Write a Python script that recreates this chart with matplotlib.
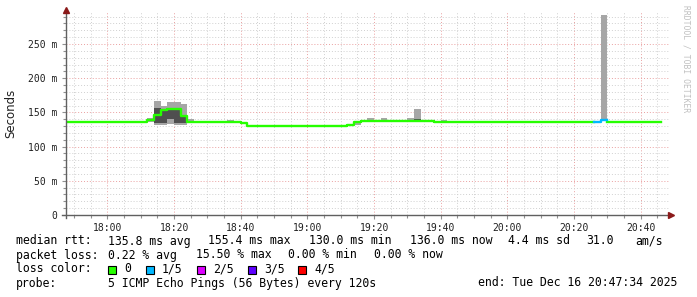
import numpy as np
import matplotlib
matplotlib.use("Agg")
import matplotlib.pyplot as plt
from matplotlib.patches import Rectangle

# median rtt (ms), value holds from the given time until the next entry
med_t = ["17:46", "18:12", "18:14", "18:16", "18:18", "18:22", "18:24", "18:40", "18:42",
         "19:12", "19:14", "19:16", "19:38", "20:26", "20:28", "20:30"]
med_ms = [136.0, 138.5, 146.2, 153.5, 155.4, 144.7, 136.0, 134.5, 130.0,
          131.5, 136.5, 137.5, 136.0, 136.7, 139.0, 136.0]
data_end = "20:46"

# lost pings out of 5
loss_t = ["17:46", "20:26", "20:30"]
loss_n = [0, 1, 0]

# smoke (light grey) per 2 min step
smoke_t = ["18:12", "18:14", "18:16", "18:18", "18:20", "18:22", "18:24", "18:36",
           "19:14", "19:18", "19:22", "19:24", "19:30", "19:32", "19:40", "20:28"]
smoke_lo = [135.5, 131.0, 131.0, 133.0, 131.0, 131.0, 135.5, 135.5,
            132.0, 136.0, 136.0, 136.0, 136.0, 136.0, 135.5, 139.0]
smoke_hi = [142.5, 166.7, 159.4, 165.2, 165.2, 162.0, 140.5, 139.0,
            137.0, 142.0, 142.0, 139.0, 142.0, 155.5, 139.0, 292.0]

# inner smoke (dark grey)
dark_t = ["18:14", "18:16", "18:18", "18:20", "18:22", "19:32"]
dark_lo = [134.0, 134.0, 140.0, 134.0, 134.0, 137.0]
dark_hi = [156.0, 155.0, 156.0, 156.0, 146.0, 140.0]

x_ticks = ["18:00", "18:20", "18:40", "19:00", "19:20", "19:40", "20:00", "20:20", "20:40"]
y_ticks = [0, 50, 100, 150, 200, 250]

loss_labels = ["0", "1/5", "2/5", "3/5", "4/5"]
loss_colors = ["#26ff00", "#00b8ff", "#dd00ff", "#5e00ff", "#ff0000"]


def mins(s):
    # minutes since 17:00
    h, m = s.split(":")
    return int(h) * 60 + int(m) - 17 * 60


W, H = 697, 297
fig = plt.figure(figsize=(W / 100, H / 100), dpi=100)
ax = fig.add_axes([66 / W, (H - 215) / H, 603 / W, 203 / H])

t0 = 47 + 34 / 60
ax.set_xlim(t0, t0 + 180 + 0.9)
ax.set_ylim(0, 296.8)

# grid
ax.set_xticks([mins(s) for s in x_ticks])
ax.set_xticks(np.arange(50, 230, 5), minor=True)
ax.set_yticks(y_ticks)
ax.set_yticks(np.arange(0, 300, 10), minor=True)
ax.grid(which="minor", color="#d0d0d0", linestyle=(0, (1, 2)), linewidth=0.7)
ax.grid(which="major", color="#eaa0a0", linestyle=(0, (1, 2)), linewidth=0.7)
ax.set_axisbelow(True)

# smoke
st = np.array([mins(s) for s in smoke_t])
ax.bar(st, np.array(smoke_hi) - np.array(smoke_lo), bottom=smoke_lo, width=2,
       align="edge", color="#a6a6a6", linewidth=0, zorder=2)
dt = np.array([mins(s) for s in dark_t])
ax.bar(dt, np.array(dark_hi) - np.array(dark_lo), bottom=dark_lo, width=2,
       align="edge", color="#4f4f4f", linewidth=0, zorder=3)

# median line coloured by loss
steps = np.arange(mins(med_t[0]), mins(data_end), 2)
mt = np.array([mins(s) for s in med_t])
lt = np.array([mins(s) for s in loss_t])
med = np.array(med_ms)[np.searchsorted(mt, steps, side="right") - 1]
loss = np.array(loss_n)[np.searchsorted(lt, steps, side="right") - 1]
xs = np.append(steps, mins(data_end))
for lv, col in enumerate(loss_colors):
    y = np.where(loss == lv, med, np.nan)
    if np.all(np.isnan(y)):
        continue
    ys = np.append(y, y[-1])
    ax.step(xs, ys, where="post", color=col, linewidth=1.7, zorder=4)

# axes in rrdtool look
for sp in ax.spines.values():
    sp.set_visible(False)
ax.plot([0, 0], [-0.015, 1.005], transform=ax.transAxes, color="#606060",
        linewidth=1, clip_on=False, zorder=5)
ax.plot([-0.007, 1.0033], [0, 0], transform=ax.transAxes, color="#606060",
        linewidth=1, clip_on=False, zorder=5)
ax.plot([0], [1.012], marker="^", markersize=4, color="#8b1a1a",
        transform=ax.transAxes, clip_on=False, zorder=6)
ax.plot([1.004], [0], marker=">", markersize=4, color="#8b1a1a",
        transform=ax.transAxes, clip_on=False, zorder=6)

ax.set_xticklabels(x_ticks)
ax.set_yticklabels(["0" if v == 0 else f"{v} m" for v in y_ticks])
ax.tick_params(which="both", colors="#909090", labelcolor="#202020",
               labelsize=7, direction="out")
ax.tick_params(which="major", length=3, width=0.8)
ax.tick_params(which="minor", length=2, width=0.8)
ax.tick_params(axis="y", pad=3)
ax.tick_params(axis="x", pad=3)
for lab in ax.get_xticklabels() + ax.get_yticklabels():
    lab.set_family("DejaVu Sans Mono")

fig.text(11 / W, 1 - 113 / H, "Seconds", rotation=90, ha="center", va="center",
         fontsize=8.5, family="DejaVu Sans", color="#202020")
fig.text(686 / W, 1 - 5 / H, "RRDTOOL / TOBI OETIKER", rotation=270, ha="center",
         va="top", fontsize=5.8, family="DejaVu Sans Mono", color="#c0c0c0")

# legend block
mono = dict(family="DejaVu Sans Mono", fontsize=8.3, color="#000000", va="center")


def put(x, y, s):
    fig.text(x / W, 1 - y / H, s, **mono)


put(16, 241, "median rtt:")
for x, s in [(108, "135.8 ms avg"), (208, "155.4 ms max"), (309, "130.0 ms min"),
             (410, "136.0 ms now"), (508, "4.4 ms sd"), (586, "31.0"), (635, "am/s")]:
    put(x, 241, s)
put(16, 255, "packet loss:")
for x, s in [(108, "0.22 % avg"), (196, "15.50 % max"), (288, "0.00 % min"),
             (374, "0.00 % now")]:
    put(x, 255, s)
put(16, 269, "loss color:")
box_x = [108, 146, 197, 248, 298]
for bx, lab, col in zip(box_x, loss_labels, loss_colors):
    fig.patches.append(Rectangle((bx / W, 1 - 273.5 / H), 8 / W, 8 / H,
                                 transform=fig.transFigure, facecolor=col,
                                 edgecolor="#000000", linewidth=0.8))
    put(bx + 16, 269, lab)
put(16, 283, "probe:")
put(108, 283, "5 ICMP Echo Pings (56 Bytes) every 120s")
put(478, 283, "end: Tue Dec 16 20:47:34 2025")

fig.savefig("out.png", dpi=100)
